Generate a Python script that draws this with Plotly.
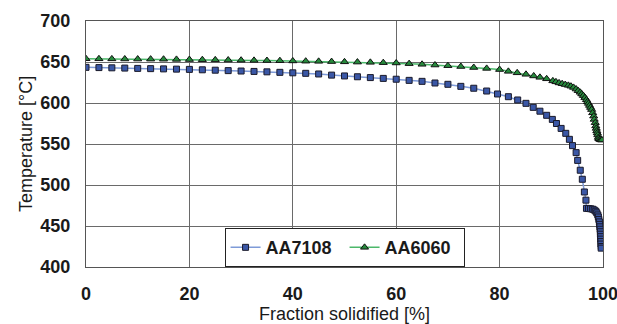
import plotly.graph_objects as go

# AA7108 data (fraction solidified %, temperature °C)
aa7108_x = [0, 2.5, 5, 7.5, 10, 12.5, 15, 17.5, 20, 22.5, 25, 27.5, 30, 32.5, 35, 37.5, 40,
            42.5, 45, 47.5, 50, 52.5, 55, 57.5, 60, 62.5, 65, 67.5, 70, 72.5, 75, 77.5,
            79.6, 81.7, 83.5, 85.1, 86.5, 87.8, 89.1, 90.2, 91.0, 91.9, 92.8, 93.5, 94.1,
            94.8, 95.1, 95.6, 96.0, 96.4, 96.7,
            96.8, 97.2, 97.6, 98.0, 98.3, 98.6, 98.8, 99.0, 99.1, 99.2, 99.3, 99.35, 99.4,
            99.45, 99.5, 99.5, 99.55, 99.55, 99.6, 99.6, 99.65, 99.65]
aa7108_t = [643.5, 643.2, 642.9, 642.6, 642.2, 641.9, 641.6, 641.3, 641.0, 640.5, 640.0,
            639.5, 639.0, 638.5, 638.0, 637.4, 636.8,
            636.2, 635.4, 634.0, 633.0, 632.0, 631.0, 630.0, 629.0, 627.6, 626.4, 624.4,
            622.8, 620.3, 618.0, 614.6,
            611.0, 607.7, 603.7, 599.6, 594.7, 590.0, 585.0, 580.0, 575.0, 569.0, 563.0,
            555.7, 548.0, 539.5, 530.0, 518.0, 507.0, 491.5, 481.5,
            471.5, 471.3, 471.0, 470.5, 469.5, 468.0, 466.0, 463.5, 461.0, 458.0, 455.0,
            452.0, 449.0, 446.0, 443.0, 440.0, 437.0, 434.0, 431.0, 428.0, 425.0, 423.0]

# AA6060 data
aa6060_x = [0, 2.5, 5, 7.5, 10, 12.5, 15, 17.5, 20, 22.5, 25, 27.5, 30, 32.5, 35, 37.5, 40,
            42.5, 45, 47.5, 50, 52.5, 55, 57.5, 60, 62.5, 65, 67.5, 70, 72.5, 75, 77.5, 80,
            81.7, 83.4, 85.1, 86.6, 87.8, 89.1, 90.3, 90.9, 91.5, 92.1, 92.7, 93.3, 93.8,
            94.3, 94.8, 95.2, 95.6, 95.9, 96.2, 96.5, 96.8, 97.0, 97.2, 97.4, 97.6, 97.8,
            98.0, 98.2, 98.3, 98.5, 98.6, 98.7, 98.8, 98.9, 99.0, 99.1, 99.2, 99.4, 99.6, 99.8]
aa6060_t = [654.0, 653.9, 653.8, 653.7, 653.6, 653.5, 653.4, 653.2, 653.0, 652.8, 652.6,
            652.4, 652.2, 652.0, 651.8, 651.6, 651.3,
            651.0, 650.8, 650.5, 650.2, 649.9, 649.6, 649.2, 648.8, 648.0, 647.2, 646.3,
            645.5, 644.5, 643.3, 642.2, 640.8,
            638.6, 636.8, 635.0, 633.0, 631.3, 629.5, 627.0, 625.8, 624.5, 623.5, 622.5,
            621.5, 620.5, 619.0, 617.0, 615.0, 613.0, 611.0, 609.0, 606.5, 604.0, 601.5,
            599.5, 597.0, 594.5, 592.0, 588.0, 584.0, 580.0, 576.0, 572.0, 569.0, 566.0,
            563.5, 561.0, 558.0, 556.5, 555.5, 555.0, 554.8]

x_ticks = [0, 20, 40, 60, 80, 100]
y_ticks = [400, 450, 500, 550, 600, 650, 700]

FONT = "Liberation Sans, Arial, sans-serif"

fig = go.Figure()
fig.add_trace(go.Scatter(
    x=aa7108_x, y=aa7108_t, name="AA7108", mode="lines+markers",
    line=dict(color="#7f9bd8", width=1.5),
    marker=dict(symbol="square", size=6, color="#3a57a6",
                line=dict(color="#1a1a2a", width=1)),
))
fig.add_trace(go.Scatter(
    x=aa6060_x, y=aa6060_t, name="AA6060", mode="lines+markers",
    line=dict(color="#4cb86a", width=1.5),
    marker=dict(symbol="triangle-up", size=7, color="#268a3c",
                line=dict(color="#111111", width=1)),
))

fig.update_layout(
    width=617, height=324,
    margin=dict(l=86, r=14, t=21, b=57),
    paper_bgcolor="white", plot_bgcolor="white",
    font=dict(family=FONT, color="#1a1a1a"),
    showlegend=True,
    legend=dict(
        orientation="h", x=0.268, y=0.158, xanchor="left", yanchor="top",
        bgcolor="white", bordercolor="#222222", borderwidth=1,
        font=dict(family=FONT, size=18, weight="bold", color="#1a1a1a"),
        itemwidth=30, entrywidth=74, tracegroupgap=0,
    ),
    xaxis=dict(
        range=[0, 100], tickvals=x_ticks, ticktext=[str(v) for v in x_ticks],
        showgrid=True, gridcolor="#6a6a6a", gridwidth=1,
        showline=True, linecolor="#555555", linewidth=1, mirror=True,
        zeroline=False, ticks="", automargin=False,
        tickfont=dict(family=FONT, size=18, weight="bold", color="#1a1a1a"),
        ticklabelstandoff=10, ticklabeloverflow="allow",
        title=dict(text="Fraction solidified [%]", font=dict(family=FONT, size=18, color="#1a1a1a"),
                   standoff=3),
    ),
    yaxis=dict(
        range=[400, 700], tickvals=y_ticks, ticktext=[str(v) for v in y_ticks],
        showgrid=True, gridcolor="#6a6a6a", gridwidth=1,
        showline=True, linecolor="#555555", linewidth=1, mirror=True,
        zeroline=False, ticks="", automargin=False,
        tickfont=dict(family=FONT, size=18, weight="bold", color="#1a1a1a"),
        ticklabelstandoff=11, ticklabeloverflow="allow",
        title=dict(text="Temperature [°C]", font=dict(family=FONT, size=18, color="#1a1a1a"),
                   standoff=3),
    ),
)

# remove the default page margin so the 617x324 figure fills the window exactly
fig.write_html(
    "out.html",
    config={"displayModeBar": False},
    post_script="document.body.style.margin='0';document.body.style.overflow='hidden';",
)
